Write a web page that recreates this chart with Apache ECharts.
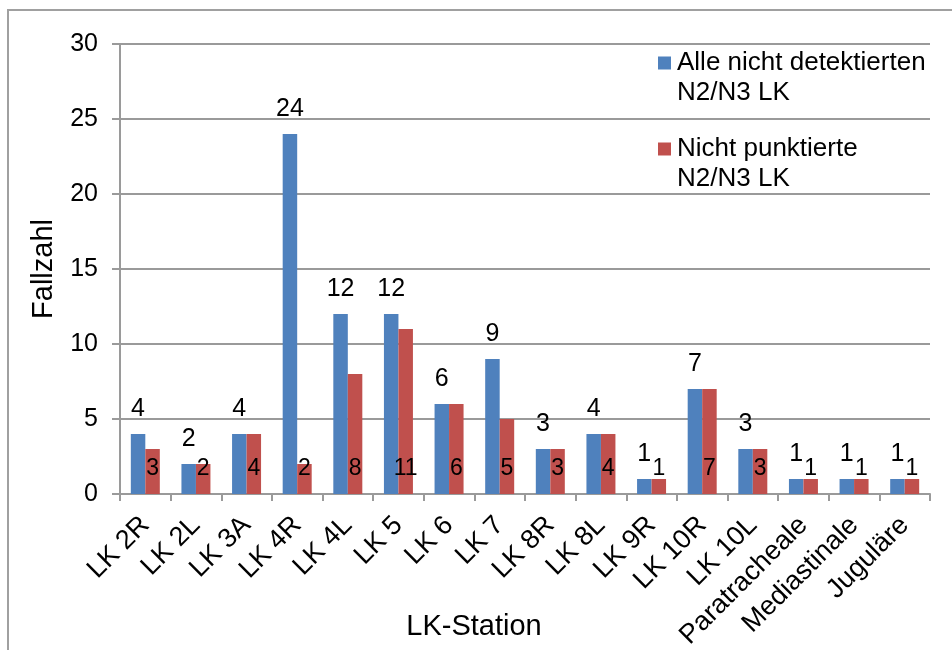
<!DOCTYPE html>
<html><head><meta charset="utf-8">
<script src="https://cdn.jsdelivr.net/npm/echarts@6/dist/echarts.min.js"></script>
<style>html,body{margin:0;padding:0;background:#fff}#c{width:952px;height:650px}</style>
</head><body><div id="c"></div>
<script>
const categories = ['LK 2R','LK 2L','LK 3A','LK 4R','LK 4L','LK 5','LK 6','LK 7','LK 8R','LK 8L','LK 9R','LK 10R','LK 10L','Paratracheale','Mediastinale','Juguläre'];
const seriesNames = ['Alle nicht detektierten N2/N3 LK', 'Nicht punktierte N2/N3 LK'];
const allUndetected = [4,2,4,24,12,12,6,9,3,4,1,7,3,1,1,1];
const notPunctured = [3,2,4,2,8,11,6,5,3,4,1,7,3,1,1,1];
const yTicks = [0,5,10,15,20,25,30];

const FONT = 'Liberation Sans, Arial, sans-serif';
const BLUE = '#4F81BD', RED = '#C0504D', GRID = '#9a9a9a';

const chart = echarts.init(document.getElementById('c'));
chart.setOption({
  animation: false,
  textStyle: { fontFamily: FONT, color: '#000' },
  graphic: [{ type: 'rect', shape: { x: 8, y: 10, width: 1000, height: 700 }, style: { fill: 'none', stroke: '#a0a0a0', lineWidth: 2 }, silent: true }],
  grid: { left: 120, right: 22, top: 44, bottom: 156, outerBoundsMode: 'none', containLabel: false },
  legend: {
    orient: 'vertical', left: 653, top: 48, padding: 0,
    itemWidth: 0, itemHeight: 14, itemTextGap: 0, itemGap: 26,
    icon: 'rect',
    data: seriesNames,
    formatter: function (name) {
      const i = seriesNames.indexOf(name);
      const parts = name.split(' N2/N3');
      const sq = i === 0 ? 'b' : 'r';
      return '{' + sq + '|}{g|}{t|' + parts[0] + '}\n{s|}{t|N2/N3' + parts[1] + '}';
    },
    textStyle: {
      fontFamily: FONT, fontSize: 26, color: '#000', lineHeight: 30,
      rich: {
        b: { width: 13, height: 13, backgroundColor: BLUE },
        r: { width: 13, height: 13, backgroundColor: RED },
        g: { width: 6, height: 13 },
        s: { width: 19, height: 13 },
        t: { fontFamily: FONT, fontSize: 26, color: '#000', lineHeight: 30 }
      }
    }
  },
  xAxis: {
    type: 'category', data: categories,
    name: 'LK-Station', nameLocation: 'middle', nameGap: 118, nameMoveOverlap: false,
    nameTextStyle: { fontFamily: FONT, fontSize: 29, color: '#000', padding: [0, 102, 0, 0] },
    axisLine: { lineStyle: { color: GRID, width: 2 } },
    axisTick: { show: true, length: 7, alignWithLabel: false, lineStyle: { color: GRID, width: 2 } },
    axisLabel: { rotate: 45, fontFamily: FONT, fontSize: 27, color: '#000', margin: 27, interval: 0 }
  },
  yAxis: {
    type: 'value', min: yTicks[0], max: yTicks[yTicks.length - 1], interval: yTicks[1] - yTicks[0],
    name: 'Fallzahl', nameLocation: 'middle', nameGap: 62, nameMoveOverlap: false,
    nameTextStyle: { fontFamily: FONT, fontSize: 29, color: '#000' },
    axisLine: { show: true, lineStyle: { color: GRID, width: 2 } },
    axisTick: { show: true, length: 8, lineStyle: { color: GRID, width: 2 } },
    splitLine: { show: true, lineStyle: { color: GRID, width: 2 } },
    axisLabel: { fontFamily: FONT, fontSize: 25, color: '#000', margin: 22 }
  },
  series: [
    { name: seriesNames[0], type: 'bar', data: allUndetected, barWidth: 14.5, barGap: '0%',
      itemStyle: { color: BLUE },
      label: { show: true, position: 'top', distance: 12, fontFamily: FONT, fontSize: 25, color: '#000' } },
    { name: seriesNames[1], type: 'bar', data: notPunctured, barWidth: 14.5, barGap: '0%',
      itemStyle: { color: RED },
      label: { show: true, position: 'insideBottom', distance: 14, fontFamily: FONT, fontSize: 23, color: '#000' } }
  ]
});
</script></body></html>
